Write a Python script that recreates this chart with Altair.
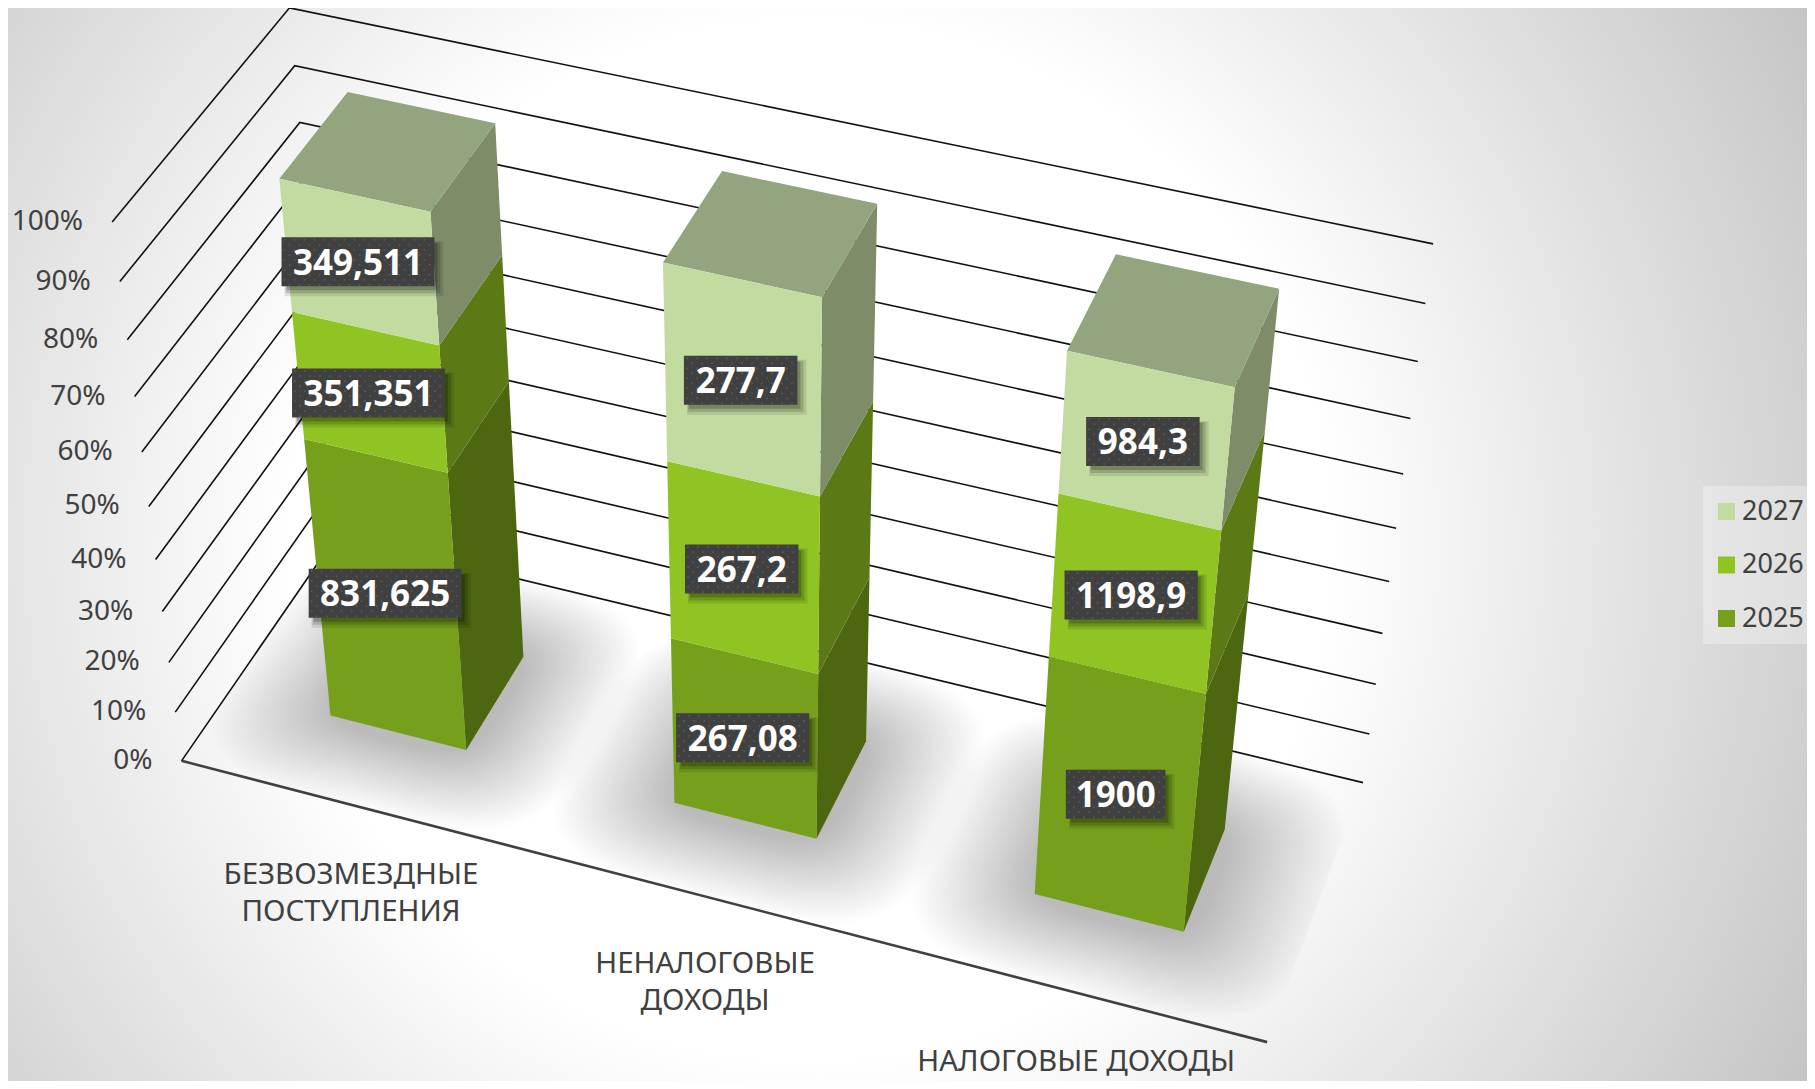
import numpy as np
import altair as alt

# ---------- values ----------
categories = ["БЕЗВОЗМЕЗДНЫЕ\nПОСТУПЛЕНИЯ", "НЕНАЛОГОВЫЕ\nДОХОДЫ", "НАЛОГОВЫЕ ДОХОДЫ"]
years = ["2025", "2026", "2027"]
labels_2025 = ["831,625", "267,08", "1900"]
labels_2026 = ["351,351", "267,2", "1198,9"]
labels_2027 = ["349,511", "277,7", "984,3"]
percent_ticks = [0, 10, 20, 30, 40, 50, 60, 70, 80, 90, 100]

front_colors = ["#76A01C", "#90C423", "#C2DBA0"]
side_colors = ["#4C6710", "#5B7A16", "#7E8C68"]
top_color = "#92A57E"
text_color = "#404040"
box_color = "#404040"

W, H = 1799, 1073
S = 1.1575
FONT = "Noto Sans"

# ---------- 3D camera fitted to the wall / floor corners ----------
camera = [((0,0,0),(157,657)),((1,0,0),(1095,900)),((1,1,0),(1177,677)),((0,0,1),(97,192)),
          ((0,1,1),(250,7)),((1,1,1),(1238,211)),((0,0,.5),(128,438)),((1,1,.5),(1206,456)),
          ((0,1,.8),(260,105)),((1,1,.8),(1225,312)),((0,1,.9),(254,57)),((1,1,.2),(1189,591))]
A = []
for (u, w, v), (x, y) in camera:
    x *= S; y *= S
    X = [u, w, v, 1]
    A.append(X + [0, 0, 0, 0] + [-x * c for c in X])
    A.append([0, 0, 0, 0] + X + [-y * c for c in X])
P = np.linalg.svd(np.array(A))[2][-1].reshape(3, 4)

def proj(u, w, v):
    h = P @ np.array([u, w, v, 1.0])
    return [float(h[0] / h[2] - 8), float(h[1] / h[2] - 8)]

def poly(corners, **props):
    ring = [proj(*c) for c in corners]
    ring.append(ring[0])
    return {"type": "Feature", "properties": props,
            "geometry": {"type": "Polygon", "coordinates": [ring]}}

def line(corners, **props):
    return {"type": "Feature", "properties": props,
            "geometry": {"type": "LineString", "coordinates": [proj(*c) for c in corners]}}

HALF, W0, W1 = 1 / 15, 0.3, 0.7
series = [labels_2025, labels_2026, labels_2027]
def num(s):
    return float(s.replace(",", "."))

N_SHADOW = 34
label_dy = [[-5, -2, -3], [0, 0, 0], [-1, -1, 0]]
fronts, sides, tops, shadows, boxes, dots = [], [], [], [], [], []
for c in range(3):
    uc = (c + 0.5) / 3
    u0, u1 = uc - HALF, uc + HALF
    total = sum(num(s[c]) for s in series)
    base = 0.0
    for k, s in enumerate(series):
        t = base + num(s[c]) / total
        fronts.append(poly([(u0, W0, base), (u1, W0, base), (u1, W0, t), (u0, W0, t)], year=years[k]))
        sides.append(poly([(u1, W0, base), (u1, W1, base), (u1, W1, t), (u1, W0, t)], fill=side_colors[k]))
        cx, cy = proj(uc, W0, (base + t) / 2)
        cx -= 2
        cy += label_dy[k][c]
        txt = s[c]
        bw = (sum(13.9 if ch == "," else 19.7 for ch in txt) + 20.8) / 2
        boxes.append({"x": cx, "y": cy, "x0": cx - bw, "x1": cx + bw, "y0": cy - 24.5, "y1": cy + 24.5, "t": txt})
        # fine dotted texture of the label plate
        for r, yy in enumerate(np.arange(cy - 22, cy + 24, 5.0)):
            for xx in np.arange(cx - bw + 3 + (r % 2) * 5, cx + bw - 1, 10.0):
                dots.append({"x": float(xx), "y": float(yy)})
        base = t
    tops.append(poly([(u0, W0, 1), (u1, W0, 1), (u1, W1, 1), (u0, W1, 1)]))
    # soft floor shadow: nested rounded footprints, clipped to the floor
    for i in range(1, N_SHADOW + 1):
        f = i / N_SHADOW
        mu, mw = 0.008 + 0.10 * f, 0.03 + 0.28 * f
        ring = []
        for a in np.linspace(0, 2 * np.pi, 40, endpoint=False):
            ca, sa = np.cos(a), np.sin(a)
            ex = np.sign(ca) * abs(ca) ** 0.55
            ey = np.sign(sa) * abs(sa) ** 0.55
            uu = uc + (HALF + mu) * ex
            ww = 0.5 + (0.2 + mw) * ey
            ring.append((min(max(uu, 0), 1), min(max(ww, 0), 1), 0))
        shadows.append(poly(ring))

grid = [line([(0, 0, p / 100), (0, 1, p / 100), (1, 1, p / 100)]) for p in percent_ticks]
front_edge = [line([(0, 0, 0), (1, 0, 0)])]

ticks = []
for p in percent_ticks:
    x, y = proj(0, 0, p / 100)
    ticks.append({"x": x - 29, "y": y, "t": f"{p}%"})
cat_dx = [-1, 0, 1]
cat_dy = [70, 68, 70]
cats = []
for c, name in enumerate(categories):
    x, y = proj((c + 0.5) / 3, 0, 0)
    cats.append({"x": x + cat_dx[c], "y": y + cat_dy[c], "t": name})

# ---------- layers ----------
identity = dict(type="identity", scale=1, translate=[0, 0])
def geo(features):
    return alt.Chart(alt.Data(values=features))

RX, RY = 1300, 1144
CX, CY = 810 - 8, 540 - 8
background = alt.Chart(alt.Data(values=[{}])).mark_rect(fill={
    "gradient": "radial", "x1": .5, "y1": .5, "r1": 0, "x2": .5, "y2": .5, "r2": .5,
    "stops": [{"offset": 0, "color": "#FFFFFF"}, {"offset": .40, "color": "#FFFFFF"},
              {"offset": 1, "color": "#B5B5B5"}]
}).encode(x=alt.value(CX - RX), x2=alt.value(CX + RX), y=alt.value(CY - RY), y2=alt.value(CY + RY))

shadow_layer = geo(shadows).mark_geoshape(fill="#000000", fillOpacity=0.0085, strokeWidth=0).project(**identity)
grid_layer = geo(grid).mark_geoshape(filled=False, stroke="#111111", strokeWidth=1.6).project(**identity)
edge_layer = geo(front_edge).mark_geoshape(filled=False, stroke="#404040", strokeWidth=2.6).project(**identity)
side_layer = geo(sides).mark_geoshape(strokeWidth=0).encode(
    fill=alt.Fill("properties.fill:N", scale=None)).project(**identity)
top_layer = geo(tops).mark_geoshape(fill=top_color, strokeWidth=0).project(**identity)
front_layer = geo(fronts).mark_geoshape(strokeWidth=0).encode(
    fill=alt.Fill("properties.year:N",
                  scale=alt.Scale(domain=years[::-1], range=front_colors[::-1]),
                  legend=alt.Legend(title=None, orient="none", legendX=1703 - 8, legendY=486 - 8,
                                    fillColor="rgba(255,255,255,0.3)", padding=12,
                                    symbolType="square", symbolSize=289, symbolStrokeWidth=0,
                                    symbolOffset=-2,
                                    labelFont=FONT, labelFontSize=27, labelColor=text_color,
                                    labelOffset=2, rowPadding=25.5))).project(**identity)

def box_shadow(dx, dy, grow, op):
    return alt.Chart(alt.Data(values=boxes)).transform_calculate(
        a=f"datum.x0+({dx - grow})", b=f"datum.x1+({dx + grow})",
        c=f"datum.y0+({dy - grow})", d=f"datum.y1+({dy + grow})"
    ).mark_rect(fill="#000000", opacity=op).encode(
        x=alt.X("a:Q", scale=None, axis=None), x2="b:Q",
        y=alt.Y("c:Q", scale=None, axis=None), y2="d:Q")

box_layer = alt.Chart(alt.Data(values=boxes)).mark_rect(fill=box_color).encode(
    x=alt.X("x0:Q", scale=None, axis=None), x2="x1:Q",
    y=alt.Y("y0:Q", scale=None, axis=None), y2="y1:Q")
dot_layer = alt.Chart(alt.Data(values=dots)).mark_square(size=3, fill="#5C5C5C", opacity=0.8, strokeWidth=0).encode(
    x=alt.X("x:Q", scale=None, axis=None), y=alt.Y("y:Q", scale=None, axis=None))
box_text = alt.Chart(alt.Data(values=boxes)).mark_text(
    font=FONT, fontWeight="bold", fontSize=35, fill="#FFFFFF", baseline="middle", align="center", dy=2
).encode(x=alt.X("x:Q", scale=None, axis=None), y=alt.Y("y:Q", scale=None, axis=None), text="t:N")

tick_text = alt.Chart(alt.Data(values=ticks)).mark_text(
    font=FONT, fontSize=28, fill=text_color, baseline="middle", align="right"
).encode(x=alt.X("x:Q", scale=None, axis=None), y=alt.Y("y:Q", scale=None, axis=None), text="t:N")
cat_text = alt.Chart(alt.Data(values=cats)).mark_text(
    font=FONT, fontSize=29.5, fill=text_color, baseline="middle", align="center",
    lineBreak="\n", lineHeight=37
).encode(x=alt.X("x:Q", scale=None, axis=None), y=alt.Y("y:Q", scale=None, axis=None), text="t:N")

chart = alt.layer(
    background, shadow_layer, grid_layer, edge_layer, side_layer, top_layer, front_layer,
    box_shadow(6, 7, 3, 0.10), box_shadow(5, 6, 1, 0.15), box_shadow(4, 5, -1, 0.20),
    box_layer, dot_layer, box_text, tick_text, cat_text
).properties(width=W, height=H, padding=0, autosize="none").configure_view(stroke=None)

chart.save("out.html", embed_options={"renderer": "svg", "actions": False})
